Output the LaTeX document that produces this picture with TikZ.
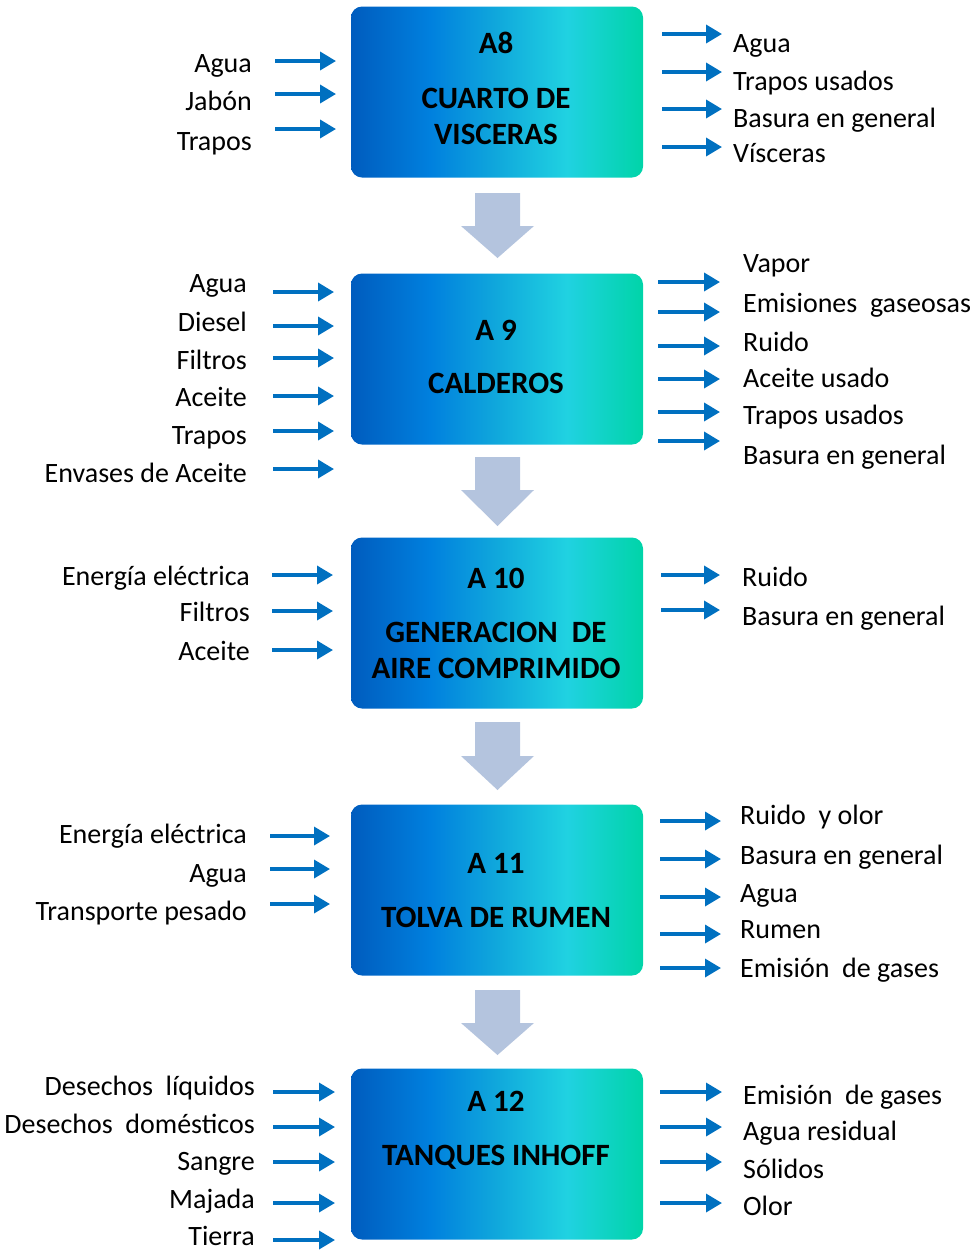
\documentclass[tikz,border=0pt]{standalone}
\usepackage{fontspec}
\setmainfont{Carlito}
\usetikzlibrary{arrows.meta}

\definecolor{gA}{RGB}{0,92,190}
\definecolor{gB}{RGB}{0,128,222}
\definecolor{gC}{RGB}{16,168,220}
\definecolor{gD}{RGB}{32,210,225}
\definecolor{gE}{RGB}{0,212,168}
\definecolor{flowblue}{RGB}{0,112,192}
\definecolor{stepgray}{RGB}{180,196,222}

% the box is mapped onto the central 25bp..75bp band of the shading
\pgfdeclarehorizontalshading{procshade}{100bp}{color(0bp)=(gA); color(25bp)=(gA);
  color(38.5bp)=(gB); color(50bp)=(gC); color(62bp)=(gD); color(75bp)=(gE); color(100bp)=(gE)}

\tikzset{
  proc/.style={shading=procshade, rounded corners=11pt, minimum width=292pt,
               minimum height=171pt, inner sep=0pt, draw=none},
  lbl/.style={font=\fontsize{28}{28}\selectfont, inner sep=0pt, text=black},
  ttl/.style={font=\fontsize{31}{31}\selectfont\bfseries, inner sep=0pt, text=black, anchor=base},
  flow/.style={draw=flowblue, line width=3.5pt, -{Triangle[length=16pt,width=18pt]}},
  stepdown/.style={fill=stepgray, draw=none},
}

\begin{document}
\begin{tikzpicture}[x=1pt,y=-1pt]
\useasboundingbox (0,0) rectangle (973,1251);

% process boxes
\node[proc] (b1) at (497,92)   {};
\node[proc] (b2) at (497,359)  {};
\node[proc] (b3) at (497,623)  {};
\node[proc] (b4) at (497,890)  {};
\node[proc] (b5) at (497,1154) {};

% box titles
\node[ttl] (b1-id) at (496,53)  {A8};
\node[ttl] (b1-t1) at (496,108) {CUARTO DE};
\node[ttl] (b1-t2) at (496,144) {VISCERAS};
\node[ttl] (b2-id) at (496,340) {A 9};
\node[ttl] (b2-t1) at (496,393) {CALDEROS};
\node[ttl] (b3-id) at (496,588) {A 10};
\node[ttl] (b3-t1) at (496,642) {GENERACION\ \ DE};
\node[ttl] (b3-t2) at (496,678) {AIRE COMPRIMIDO};
\node[ttl] (b4-id) at (496,873) {A 11};
\node[ttl] (b4-t1) at (496,927) {TOLVA DE RUMEN};
\node[ttl] (b5-id) at (496,1111) {A 12};
\node[ttl] (b5-t1) at (496,1165) {TANQUES INHOFF};

% down arrows between stages
\foreach \t/\h/\p [count=\k] in {193/226/258, 457/490/526, 722/756/790, 990/1023/1055} {
  \coordinate (s\k-top) at (497.5,\t);
  \coordinate (s\k-tip) at (497.5,\p);
  \fill[stepdown] (475,\t) -- (520,\t) -- (520,\h) -- (534,\h) -- (s\k-tip)
     -- (461,\h) -- (475,\h) -- cycle;
}

% inputs (left) ------------------------------------------------------
% box 1
\foreach \t/\b/\a [count=\i] in {Agua/72/61, Jabón/110/94, Trapos/150/129} {
  \node[lbl, anchor=base east] (in1-\i) at (252,\b) {\t};
  \coordinate (in1s-\i) at (275,\a);
  \coordinate (in1e-\i) at (336,\a);
  \draw[flow] (in1s-\i) -- (in1e-\i);
}
% box 2
\foreach \t/\b/\a [count=\i] in {Agua/292/292, Diesel/331/326, Filtros/369/358,
    Aceite/406/396, Trapos/444/431, Envases de Aceite/482/469} {
  \node[lbl, anchor=base east] (in2-\i) at (247,\b) {\t};
  \coordinate (in2s-\i) at (273,\a);
  \coordinate (in2e-\i) at (334,\a);
  \draw[flow] (in2s-\i) -- (in2e-\i);
}
% box 3
\foreach \t/\b/\a [count=\i] in {Energía eléctrica/585/575, Filtros/621/611, Aceite/660/650} {
  \node[lbl, anchor=base east] (in3-\i) at (250,\b) {\t};
  \coordinate (in3s-\i) at (272,\a);
  \coordinate (in3e-\i) at (333,\a);
  \draw[flow] (in3s-\i) -- (in3e-\i);
}
% box 4
\foreach \t/\b/\a [count=\i] in {Energía eléctrica/843/836, Agua/882/869, Transporte pesado/920/904} {
  \node[lbl, anchor=base east] (in4-\i) at (247,\b) {\t};
  \coordinate (in4s-\i) at (270,\a);
  \coordinate (in4e-\i) at (330,\a);
  \draw[flow] (in4s-\i) -- (in4e-\i);
}
% box 5
\foreach \t/\b/\a [count=\i] in {Desechos\ \ líquidos/1095/1092, Desechos\ \ domésticos/1133/1127,
    Sangre/1170/1162, Majada/1208/1203, Tierra/1245/1240} {
  \node[lbl, anchor=base east] (in5-\i) at (255,\b) {\t};
  \coordinate (in5s-\i) at (273,\a);
  \coordinate (in5e-\i) at (335,\a);
  \draw[flow] (in5s-\i) -- (in5e-\i);
}

% outputs (right) ----------------------------------------------------
% box 1
\foreach \t/\b/\a [count=\i] in {Agua/52/34, Trapos usados/90/72,
    Basura en general/127/109, Vísceras/162/147} {
  \node[lbl, anchor=base west] (out1-\i) at (733,\b) {\t};
  \coordinate (out1s-\i) at (662,\a);
  \coordinate (out1e-\i) at (722,\a);
  \draw[flow] (out1s-\i) -- (out1e-\i);
}
% box 2
\foreach \t/\b/\a [count=\i] in {Vapor/272/282, Emisiones\ \ gaseosas/312/312, Ruido/351/346,
    Aceite usado/387/379, Trapos usados/424/412, Basura en general/464/441} {
  \node[lbl, anchor=base west] (out2-\i) at (743,\b) {\t};
  \coordinate (out2s-\i) at (658,\a);
  \coordinate (out2e-\i) at (720,\a);
  \draw[flow] (out2s-\i) -- (out2e-\i);
}
% box 3
\foreach \t/\b/\a [count=\i] in {Ruido/586/575, Basura en general/625/610} {
  \node[lbl, anchor=base west] (out3-\i) at (742,\b) {\t};
  \coordinate (out3s-\i) at (661,\a);
  \coordinate (out3e-\i) at (720,\a);
  \draw[flow] (out3s-\i) -- (out3e-\i);
}
% box 4
\foreach \t/\b/\a [count=\i] in {Ruido\ \ y olor/824/821, Basura en general/864/859,
    Agua/902/897, Rumen/938/934, Emisión\ \ de gases/977/968} {
  \node[lbl, anchor=base west] (out4-\i) at (740,\b) {\t};
  \coordinate (out4s-\i) at (660,\a);
  \coordinate (out4e-\i) at (721,\a);
  \draw[flow] (out4s-\i) -- (out4e-\i);
}
% box 5
\foreach \t/\b/\a [count=\i] in {Emisión\ \ de gases/1104/1092, Agua residual/1140/1127,
    Sólidos/1178/1162, Olor/1215/1203} {
  \node[lbl, anchor=base west] (out5-\i) at (743,\b) {\t};
  \coordinate (out5s-\i) at (660,\a);
  \coordinate (out5e-\i) at (722,\a);
  \draw[flow] (out5s-\i) -- (out5e-\i);
}
\end{tikzpicture}
\end{document}
